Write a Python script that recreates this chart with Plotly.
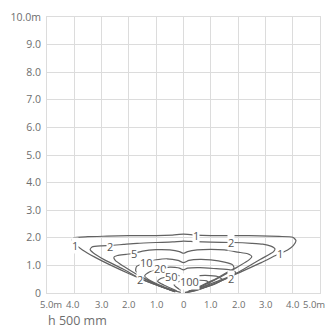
import plotly.graph_objects as go

# ---- data ----
x_tick_vals = [-5, -4, -3, -2, -1, 0, 1, 2, 3, 4, 5]
x_tick_text = ["5.0m", "4.0", "3.0", "2.0", "1.0", "0", "1.0", "2.0", "3.0", "4.0", "5.0m"]
y_tick_vals = [0, 1, 2, 3, 4, 5, 6, 7, 8, 9, 10]
y_tick_text = ["0", "1.0", "2.0", "3.0", "4.0", "5.0", "6.0", "7.0", "8.0", "9.0", "10.0m"]

c1_x = [-0.1, -0.5, -1.2, -1.95, -2.65, -3.25, -3.7, -3.98, -4.08, -4.03, -3.5, -2.8, -2.0, -1.0, -0.4, 0.0,
        0.4, 1.0, 2.0, 2.8, 3.5, 4.0, 4.12, 4.02, 3.8, 3.5, 2.85, 2.0, 1.05, 0.35, 0.05]
c1_y = [0.02, 0.12, 0.36, 0.68, 1.0, 1.3, 1.56, 1.78, 1.92, 2.0, 2.04, 2.06, 2.08, 2.08, 2.1, 2.13,
        2.1, 2.08, 2.08, 2.07, 2.05, 2.02, 1.9, 1.72, 1.55, 1.42, 1.1, 0.72, 0.3, 0.07, 0.02]

c2_x = [-0.3, -0.99, -1.58, -2.2, -2.89, -3.3, -3.42, -3.35, -3.0, -2.68, -2.2, -1.7, -1.0, -0.4, 0.0,
        0.4, 1.0, 1.8, 2.5, 2.9, 3.2, 3.35, 3.3, 2.82, 2.23, 1.69, 1.04, 0.44, 0.1]
c2_y = [0.04, 0.29, 0.52, 0.86, 1.2, 1.45, 1.57, 1.67, 1.71, 1.72, 1.76, 1.8, 1.83, 1.85, 1.88,
        1.86, 1.84, 1.83, 1.8, 1.77, 1.7, 1.6, 1.5, 1.22, 0.88, 0.58, 0.3, 0.08, 0.02]

c5_x = [-0.35, -0.99, -1.58, -2.18, -2.5, -2.55, -2.42, -2.1, -1.82, -1.5, -1.0, -0.5, -0.15, 0.0,
        0.15, 0.5, 1.0, 1.5, 2.0, 2.35, 2.5, 2.4, 1.99, 1.39, 0.68, 0.2]
c5_y = [0.06, 0.3, 0.6, 0.96, 1.18, 1.3, 1.36, 1.4, 1.44, 1.52, 1.57, 1.56, 1.5, 1.44,
        1.5, 1.56, 1.58, 1.56, 1.48, 1.42, 1.32, 1.2, 0.95, 0.6, 0.25, 0.06]

c10_x = [-0.4, -1.0, -1.5, -1.75, -1.72, -1.5, -1.35, -1.0, -0.6, -0.2, 0.0, 0.2, 0.6, 1.0, 1.5, 1.8,
         1.85, 1.6, 1.2, 0.6, 0.2]
c10_y = [0.08, 0.32, 0.58, 0.8, 0.96, 1.06, 1.12, 1.2, 1.24, 1.18, 1.1, 1.18, 1.22, 1.2, 1.12, 1.02,
         0.9, 0.75, 0.52, 0.24, 0.06]

c20_x = [-0.3, -0.9, -1.3, -1.42, -1.25, -1.0, -0.87, -0.5, -0.15, 0.0, 0.15, 0.6, 1.2, 1.7, 1.92,
         1.75, 1.3, 0.7, 0.2]
c20_y = [0.08, 0.3, 0.5, 0.62, 0.76, 0.85, 0.88, 0.94, 0.9, 0.84, 0.9, 0.92, 0.88, 0.84, 0.74,
         0.62, 0.45, 0.22, 0.06]

c50_x = [-0.25, -0.7, -0.95, -0.85, -0.5, -0.2, 0.0, 0.3, 0.8, 1.25, 1.42, 1.2, 0.7, 0.2]
c50_y = [0.08, 0.28, 0.42, 0.52, 0.6, 0.64, 0.6, 0.62, 0.64, 0.6, 0.48, 0.35, 0.18, 0.05]

c100_x = [-0.1, -0.35, -0.15, 0.1, 0.5, 0.85, 0.95, 0.6, 0.15]
c100_y = [0.1, 0.3, 0.42, 0.42, 0.46, 0.44, 0.32, 0.18, 0.05]

label_text = ["1", "2", "1", "2", "1", "5", "10", "20", "2", "50", "100", "2", "1"]
label_x = [0.44, 1.73, -3.96, -2.68, 3.54, -1.82, -1.35, -0.85, -1.58, -0.45, 0.22, 1.73, -0.22]
label_y = [2.08, 1.84, 1.73, 1.68, 1.42, 1.42, 1.12, 0.88, 0.49, 0.58, 0.43, 0.53, -0.03]

source_x = [0]
source_y = [-0.03]

caption = "h 500 mm"

# ---- figure ----
LINE = "#626262"
GRID = "#dcdcdc"
TXT = "#6e6e6e"
FONT = "Open Sans"

fig = go.Figure()
for cx, cy in [(c1_x, c1_y), (c2_x, c2_y), (c5_x, c5_y), (c10_x, c10_y),
               (c20_x, c20_y), (c50_x, c50_y), (c100_x, c100_y)]:
    fig.add_trace(go.Scatter(x=cx, y=cy, mode="lines",
                             line=dict(color=LINE, width=1.2, shape="spline", smoothing=0.6),
                             hoverinfo="skip", showlegend=False))

for t, lx, ly in zip(label_text, label_x, label_y):
    fig.add_annotation(x=lx, y=ly, text=t, showarrow=False, bgcolor="white",
                       font=dict(family=FONT, size=11, color="#555555"),
                       borderpad=0)

fig.add_trace(go.Scatter(x=source_x, y=source_y, mode="markers",
                         marker=dict(color="#e8161c", size=8),
                         cliponaxis=False, hoverinfo="skip", showlegend=False))

x_shift = [4, -2, 0, 0, 0, 0, 0, 0, 0, 0, -6]
for v, t, s in zip(x_tick_vals, x_tick_text, x_shift):
    fig.add_annotation(x=v, y=0, xref="x", yref="y", text=t, showarrow=False,
                       yanchor="top", yshift=-3, xshift=s,
                       font=dict(family=FONT, size=9.5, color=TXT))

fig.add_annotation(x=0, y=0, xref="paper", yref="paper", text=caption, showarrow=False,
                   xanchor="left", yanchor="top", yshift=-17, xshift=-1,
                   font=dict(family=FONT, size=12.5, color=TXT))

fig.update_xaxes(range=[-5, 5], tickvals=x_tick_vals, showticklabels=False,
                 showgrid=True, gridcolor=GRID, gridwidth=1, zeroline=False,
                 showline=True, linecolor=GRID, mirror=True, fixedrange=True)
fig.update_yaxes(range=[0, 10], tickvals=y_tick_vals, ticktext=y_tick_text,
                 showgrid=True, gridcolor=GRID, gridwidth=1, zeroline=False,
                 showline=True, linecolor=GRID, mirror=True, ticks="",
                 ticklabeloverflow="allow", ticklabelstandoff=3,
                 tickfont=dict(family=FONT, size=10.5, color=TXT), fixedrange=True)

fig.update_layout(width=331, height=329, margin=dict(l=41, r=10, t=14, b=36),
                  plot_bgcolor="white", paper_bgcolor="white")

# remove the default page margin so the figure fills the window exactly
fig.write_html("out.html", config={"displayModeBar": False},
               post_script="document.body.style.margin='0px';")
